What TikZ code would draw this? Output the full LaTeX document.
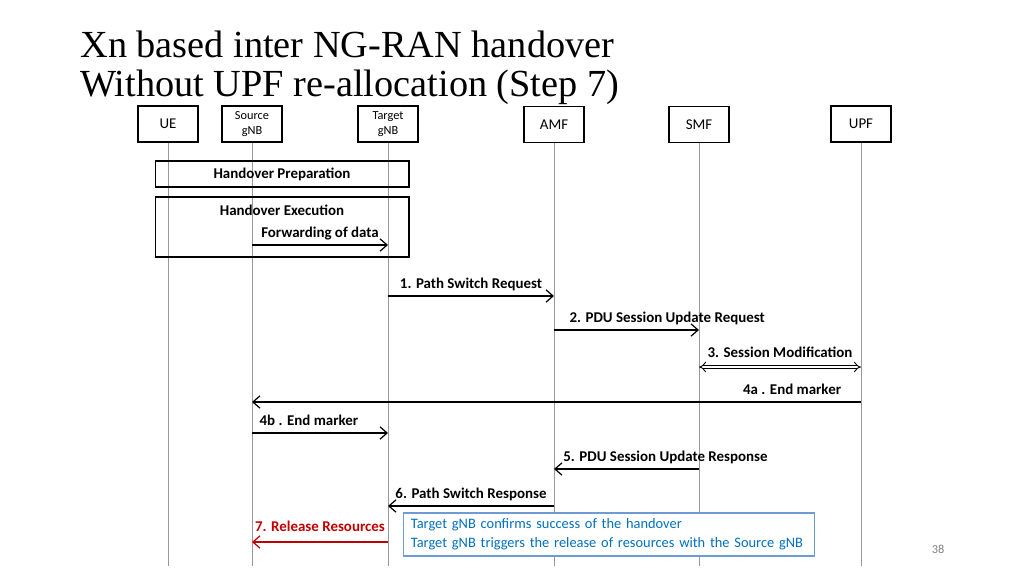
\documentclass[tikz,border=0pt]{standalone}
\usepackage{fontspec}
\setmainfont{Liberation Serif}
\newfontfamily\calibri{Carlito}
\usetikzlibrary{arrows.meta,positioning}
\definecolor{notetext}{RGB}{0,112,192}
\definecolor{noteline}{RGB}{110,155,210}
\definecolor{releasered}{RGB}{192,0,0}

\begin{document}
\begin{tikzpicture}[
        x=0.02cm, y=-0.02cm,
        every node/.style={font=\calibri\fontsize{8.5}{10}\selectfont},
        entity/.style={draw, line width=0.6pt, minimum width=1.2cm, minimum height=0.72cm, inner sep=1pt, align=center},
        small/.style={font=\calibri\fontsize{7}{8.5}\selectfont},
        lifeline/.style={draw=gray!80, line width=0.5pt},
        phase/.style={draw, line width=0.6pt, minimum width=5.08cm, inner sep=0pt},
        msg/.style={-{Straight Barb[length=4pt,width=7pt]}, line width=0.7pt},
        twoway/.style={{Implies}-{Implies}, double, double distance=1.6pt, line width=0.5pt},
        lbl/.style={font=\calibri\bfseries\fontsize{8.5}{10}\selectfont, inner sep=1pt, text depth=2pt},
        note/.style={draw=noteline, fill=white, line width=0.6pt, text=notetext, align=left,
            text width=8.24cm-9pt, inner xsep=4.5pt, inner ysep=2pt, minimum height=0.86cm,
            font=\calibri\fontsize{8.2}{10.8}\selectfont}
    ]

    \useasboundingbox (0,0) rectangle (1024,576);

    % Title
    \node[anchor=base west, font=\fontsize{21.8}{22.7}\selectfont, inner sep=0pt] (title1) at (80,57)
    {Xn based inter NG-RAN handover};
    \node[anchor=base west, font=\fontsize{21.8}{22.7}\selectfont, inner sep=0pt] (title2)
    at ([yshift=-22.7pt]title1.base west) {Without UPF re-allocation (Step 7)};

    % Entities
    \node[entity] (ue) at (168,124) {UE};
    \node[entity, small] (src) at (252,124) {Source\\gNB};
    \node[entity, small] (tgt) at (388,124) {Target\\gNB};
    \node[entity] (amf) at (554,124.5) {AMF};
    \node[entity] (smf) at (699,124.5) {SMF};
    \node[entity] (upf) at (861,124) {UPF};

    % Lifelines
    \coordinate (bottom) at (0,566);
    \foreach \e in {ue,src,tgt,amf,smf,upf}
        \draw[lifeline] (\e.south) -- (\e.south |- bottom);

    % Handover phases
    \node[phase, minimum height=0.52cm] (prep) at (282,174) {\textbf{Handover Preparation}};
    \node[phase, minimum height=1.2cm] (exec) at (282,227) {};
    \node[lbl, below=3.5pt of exec.north] (exectitle) {Handover Execution};

    % Message rows
    \coordinate (fwd) at (0,245);
    \coordinate (m1) at (0,296);
    \coordinate (m2) at (0,330);
    \coordinate (m3) at (0,367);
    \coordinate (m4a) at (0,402);
    \coordinate (m4b) at (0,433);
    \coordinate (m5) at (0,469);
    \coordinate (m6) at (0,506);
    \coordinate (m7) at (0,542);

    % Messages
    \draw[msg] (src |- fwd) -- node[lbl, above=1pt] {Forwarding of data} (tgt |- fwd);
    \draw[msg] (tgt |- m1) -- node[lbl, above=1pt] {1. Path Switch Request} (amf |- m1);
    \draw[msg] (amf |- m2) -- node[lbl, pos=0, above right=1pt and 7.5pt] {2. PDU Session Update Request} (smf |- m2);
    \draw[twoway] (smf |- m3) -- node[lbl, above=2pt] {3. Session Modification} (upf |- m3);
    \draw[msg] (upf |- m4a) -- node[lbl, pos=0, above left=1pt and 10pt] {4a . End marker} (src |- m4a);
    \draw[msg] (src |- m4b) -- node[lbl, pos=0, above right=1pt and 3pt] {4b . End marker} (tgt |- m4b);
    \draw[msg] (smf |- m5) -- node[lbl, pos=1, above right=1pt and 4pt] {5. PDU Session Update Response} (amf |- m5);
    \draw[msg] (amf |- m6) -- node[lbl, above=1pt] {6. Path Switch Response} (tgt |- m6);
    \draw[msg, releasered] (tgt |- m7) -- node[lbl, above=2.5pt, text=releasered] {7. Release Resources} (src |- m7);

    % Note
    \node[note] (remark) at (609,534.5)
    {Target gNB confirms success of the handover\\Target gNB triggers the release of resources with the Source gNB};

    % Page number
    \node[small, text=gray] (page) at (938,549) {38};

\end{tikzpicture}
\end{document}
